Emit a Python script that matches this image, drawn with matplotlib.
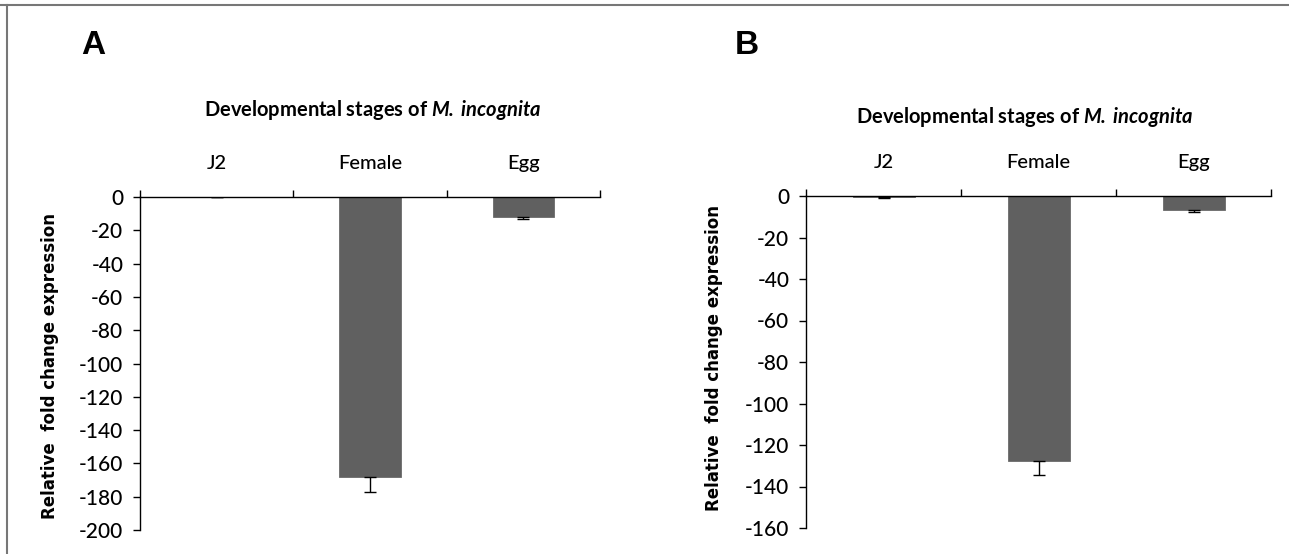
import numpy as np
import matplotlib.pyplot as plt
from matplotlib.lines import Line2D

W, H = 1289, 554

stages = ['J2', 'Female', 'Egg']
values_a = [0.0, -168.0, -12.2]
errors_a = [0.0, 9.0, 0.8]
values_b = [-0.5, -127.6, -6.9]
errors_b = [0.3, 6.7, 0.6]
yticks_a = list(range(-200, 1, 20))
yticks_b = list(range(-160, 1, 20))

BAR_COLOR = '#606060'
FONT = 'Lato'

plt.rcParams['mathtext.fontset'] = 'custom'
plt.rcParams['mathtext.bfit'] = 'Lato:bold:italic'
plt.rcParams['mathtext.rm'] = 'Lato:bold'


def px(x, y):
    return x / W, 1 - y / H


def panel(fig, box, values, errors, yticks, letter, letter_xy, title_xy, ylab_xy):
    left, top, right, bottom = box
    ax = fig.add_axes([left / W, 1 - bottom / H, (right - left) / W, (bottom - top) / H])
    x = np.arange(len(stages))
    ax.bar(x, values, width=0.4, color=BAR_COLOR, edgecolor='#6a6a6a', linewidth=0.6, zorder=2)
    ax.errorbar(x, values, yerr=[errors, [0] * len(errors)], fmt='none', ecolor='black',
                elinewidth=1.0, capsize=4.5, capthick=1.0, zorder=3)
    ax.set_xlim(-0.5, len(stages) - 0.5)
    ax.set_ylim(yticks[0], 0)
    ax.set_yticks(yticks)
    ax.set_yticklabels([str(t) for t in yticks], family=FONT, fontsize=15, fontweight='medium')
    ax.tick_params(axis='y', direction='out', length=5, width=1.0, pad=7)

    ax.spines['bottom'].set_visible(False)
    ax.spines['right'].set_visible(False)
    ax.spines['top'].set_linewidth(1.0)
    ax.spines['left'].set_linewidth(1.0)
    ax.xaxis.set_ticks_position('top')
    ax.set_xticks(np.arange(len(stages) + 1) - 0.5)
    ax.set_xticklabels([])
    ax.tick_params(axis='x', which='major', direction='out', length=5, width=1.0)
    ax.set_xticks(x, minor=True)
    ax.set_xticklabels(stages, minor=True, family=FONT, fontsize=14.5, fontweight='medium')
    ax.tick_params(axis='x', which='minor', length=0, pad=18)

    fig.text(*px(*letter_xy), letter, fontsize=24, fontweight='bold',
             family='Liberation Sans', ha='center', va='center')
    fig.text(*px(*title_xy), 'Developmental stages of $\\mathbfit{M.\\,incognita}$',
             fontsize=14.5, fontweight='bold', family=FONT, ha='center', va='center')
    fig.text(*px(*ylab_xy), 'Relative  fold change expression', rotation=90,
             fontsize=12, fontweight='bold', family='DejaVu Sans', ha='center', va='center')
    return ax


fig = plt.figure(figsize=(W / 100, H / 100), dpi=100)

panel(fig, (140, 197, 600, 530), values_a, errors_a, yticks_a, 'A',
      (93, 46), (373, 110), (50, 366))
panel(fig, (806, 196, 1271, 528), values_b, errors_b, yticks_b, 'B',
      (747, 46), (1025, 117), (714, 358))

# outer frame (top and left edges only)
fig.add_artist(Line2D([0, 1], [1 - 5 / H, 1 - 5 / H], color='#777777', lw=1.5))
fig.add_artist(Line2D([7 / W, 7 / W], [0, 1 - 5 / H], color='#777777', lw=1.5))

fig.savefig('out.png', dpi=100)
